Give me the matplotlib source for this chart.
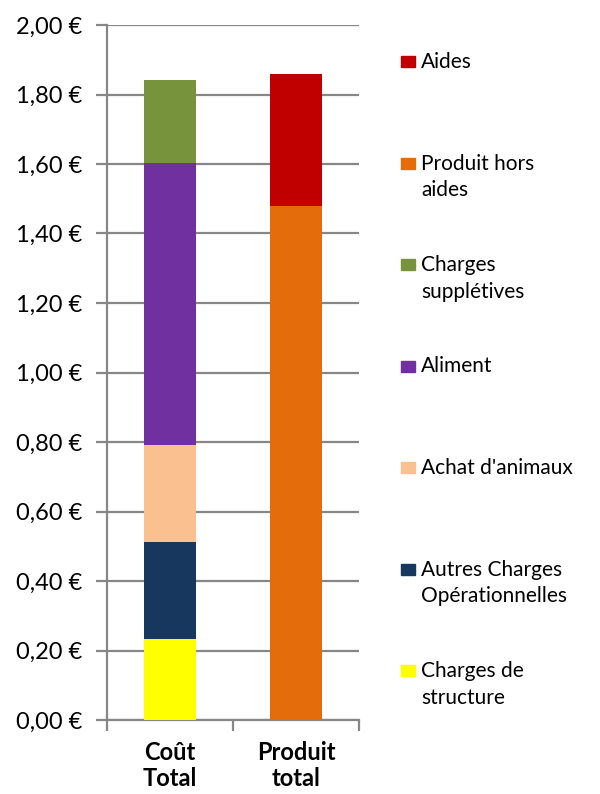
import numpy as np
import matplotlib.pyplot as plt
from matplotlib.patches import Rectangle

plt.rcParams['font.family'] = ['Lato', 'DejaVu Sans']

categories = ['Coût\nTotal', 'Produit\ntotal']

# stacked series, bottom to top (value per category)
series_names = ['Charges de\nstructure', 'Autres Charges\nOpérationnelles', "Achat d'animaux",
                'Aliment', 'Charges\nsupplétives', 'Produit hors\naides', 'Aides']
series_values = [
    [0.233, 0.0],   # Charges de structure
    [0.279, 0.0],   # Autres Charges Opérationnelles
    [0.279, 0.0],   # Achat d'animaux
    [0.812, 0.0],   # Aliment
    [0.239, 0.0],   # Charges supplétives
    [0.0, 1.480],   # Produit hors aides
    [0.0, 0.379],   # Aides
]
series_colors = ['#FFFF00', '#17375E', '#FAC090', '#7030A0', '#77933C', '#E46C0A', '#C00000']

yticks = np.arange(0, 2.01, 0.2)
ytick_labels = [('%.2f €' % v).replace('.', ',') for v in yticks]

grid_col = '#878787'

fig = plt.figure(figsize=(6, 7.94), dpi=100)
ax = fig.add_axes([107/600, 1-720/794, 252/600, 695/794])

x = np.arange(len(categories))
bottom = np.zeros(len(categories))
for name, vals, col in zip(series_names, series_values, series_colors):
    vals = np.array(vals)
    ax.bar(x, vals, width=0.405, bottom=bottom, color=col, zorder=3, linewidth=0)
    bottom += vals

ax.set_xlim(-0.5, 1.5)
ax.set_ylim(0, 2.0)
ax.set_yticks(yticks)
ax.set_yticklabels(ytick_labels, fontsize=17)
ax.yaxis.grid(True, color=grid_col, linewidth=1.6, zorder=0)
ax.set_axisbelow(True)

# category boundaries as major ticks, labels on minor ticks
ax.set_xticks([-0.5, 0.5, 1.5])
ax.set_xticklabels([])
ax.set_xticks(x, minor=True)
ax.set_xticklabels(categories, minor=True, fontsize=17, fontweight='bold', linespacing=1.15)
ax.tick_params(axis='x', which='minor', length=0, pad=15)
ax.tick_params(axis='x', which='major', length=8, width=1.6, color=grid_col, direction='out')
ax.tick_params(axis='y', length=8, width=1.6, color=grid_col, pad=10)

for s in ['top', 'right']:
    ax.spines[s].set_visible(False)
for s in ['left', 'bottom']:
    ax.spines[s].set_color(grid_col)
    ax.spines[s].set_linewidth(1.6)

# legend, drawn top to bottom (reverse stacking order)
first_line_y = 62
step = 101.5
for i, (name, col) in enumerate(zip(series_names[::-1], series_colors[::-1])):
    yc = first_line_y + i * step
    fig.patches.append(Rectangle((401/600, 1 - (yc + 5)/794), 14/600, 11/794,
                                 transform=fig.transFigure, color=col))
    fig.text(421/600, 1 - (yc - 10)/794, name, fontsize=15, va='top', ha='left',
             linespacing=1.42)

fig.savefig('out.png', dpi=100)
